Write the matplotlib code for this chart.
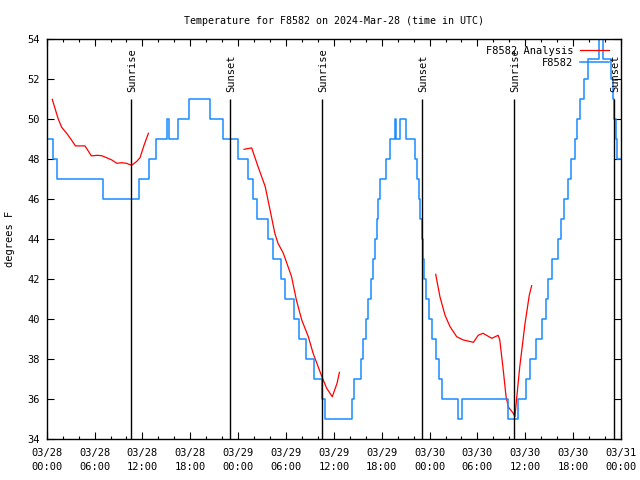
import matplotlib
matplotlib.use("Agg")
import matplotlib.pyplot as plt

plt.rcParams['font.family'] = ['DejaVu Sans Mono']

# ---- data (hours since 2024-03-28 00:00 UTC) ----
blue_hours = [0.0, 0.8, 1.3, 7.1, 11.6, 12.85, 13.65, 15.1, 15.35, 16.4, 17.9, 20.45, 22.15,
              24.0, 25.2, 25.9, 26.4, 27.7, 28.4, 29.4, 29.9, 30.95, 31.65, 32.45, 33.45, 34.5,
              34.85, 38.3, 38.5, 39.4, 39.6, 40.05, 40.3, 40.6, 40.85, 41.1, 41.35, 41.55, 41.8,
              42.5, 43.0, 43.7, 43.85, 44.3, 45.05, 46.2, 46.45, 46.65, 46.85, 47.0, 47.15,
              47.35, 47.6, 47.95, 48.3, 48.75, 49.2, 49.6, 51.6, 52.1, 57.85, 59.1, 60.1, 60.55,
              61.3, 62.1, 62.6, 62.9, 63.3, 64.05, 64.45, 64.9, 65.3, 65.7, 66.2, 66.45, 66.9,
              67.35, 67.85, 69.3, 69.7, 70.8, 71.0, 71.15, 71.35, 71.55, 72.0]
blue_vals = [49, 48, 47, 46, 47, 48, 49, 50, 49, 50, 51, 50, 49,
             48, 47, 46, 45, 44, 43, 42, 41, 40, 39, 38, 37, 36,
             35, 36, 37, 38, 39, 40, 41, 42, 43, 44, 45, 46, 47,
             48, 49, 50, 49, 50, 49, 48, 47, 46, 45, 44, 43,
             42, 41, 40, 39, 38, 37, 36, 35, 36, 35, 36, 37, 38,
             39, 40, 41, 42, 43, 44, 45, 46, 47, 48, 49, 50, 51,
             52, 53, 55, 53, 52, 51, 50, 49, 48, 48]

red1_hours = [0.7, 1.0, 1.46, 1.88, 2.5, 3.1, 3.6, 4.8, 5.6, 6.3, 6.9, 7.5, 8.15, 8.8, 9.4,
              10.0, 10.65, 11.3, 11.7, 12.2, 12.75]
red1_vals = [51.0, 50.6, 50.0, 49.6, 49.3, 48.97, 48.67, 48.67, 48.17, 48.2, 48.18, 48.08,
             47.97, 47.8, 47.83, 47.8, 47.7, 47.9, 48.08, 48.7, 49.3]

red2_hours = [24.74, 25.7, 26.5, 27.4, 28.0, 28.6, 29.0, 29.67, 30.7, 31.3, 31.97, 32.8,
              33.4, 34.5, 35.1, 35.8, 36.4, 36.7]
red2_vals = [48.5, 48.57, 47.63, 46.63, 45.47, 44.3, 43.8, 43.3, 42.13, 40.97, 39.97, 39.13,
             38.3, 37.13, 36.55, 36.13, 36.8, 37.35]

red3_hours = [48.77, 49.3, 49.94, 50.57, 51.4, 52.2, 53.5, 54.1, 54.7, 55.8, 56.6, 56.8,
              57.2, 57.6, 57.9, 58.5, 58.7, 58.9, 59.3, 59.97, 60.5, 60.8]
red3_vals = [42.25, 41.13, 40.2, 39.63, 39.13, 38.97, 38.85, 39.2, 39.3, 39.05, 39.2, 38.97,
             37.6, 36.1, 35.6, 35.3, 35.13, 35.97, 37.6, 39.8, 41.2, 41.68]

sun_hours = [10.6, 23.02, 34.56, 47.09, 58.63, 71.16]
sun_labels = ['Sunrise', 'Sunset', 'Sunrise', 'Sunset', 'Sunrise', 'Sunset']

xtick_hours = [0, 6, 12, 18, 24, 30, 36, 42, 48, 54, 60, 66, 72]
xtick_labels = ['03/28\n00:00', '03/28\n06:00', '03/28\n12:00', '03/28\n18:00',
                '03/29\n00:00', '03/29\n06:00', '03/29\n12:00', '03/29\n18:00',
                '03/30\n00:00', '03/30\n06:00', '03/30\n12:00', '03/30\n18:00',
                '03/31\n00:00']
ytick_vals = list(range(34, 55, 2))

# ---- figure ----
fig = plt.figure(figsize=(6.4, 4.8), dpi=100)
ax_w = (621 - 46.7)
ax_h = 400.0
ax = fig.add_axes([46.7/640, 1 - 439.3/480, ax_w/640, ax_h/480])

red = '#ff0000'
blue = '#1a8cff'
fs = 7.5

ax.plot(red1_hours, red1_vals, color=red, lw=0.9, label='F8582 Analysis')
ax.plot(red2_hours, red2_vals, color=red, lw=0.9)
ax.plot(red3_hours, red3_vals, color=red, lw=0.9)
ax.plot(blue_hours, blue_vals, color=blue, lw=1.1, drawstyle='steps-post', label='F8582')

for h, lab in zip(sun_hours, sun_labels):
    ax.vlines(h, 34, 51, color='black', lw=1.0)
    ax.text(h + 0.15, 51.35, lab, rotation=90, ha='center', va='bottom', fontsize=fs)

ax.set_xlim(0, 72)
ax.set_ylim(34, 54)
ax.set_xticks(xtick_hours)
ax.set_xticklabels(xtick_labels, fontsize=fs, linespacing=1.55)
ax.set_xticks(range(0, 73, 2), minor=True)
ax.set_yticks(ytick_vals)
ax.set_yticklabels([str(v) for v in ytick_vals], fontsize=fs)
ax.tick_params(axis='both', which='major', direction='in', length=5, width=0.8,
               top=True, right=True, pad=5)
ax.tick_params(axis='x', which='minor', direction='in', length=2.5, width=0.8, top=True)
ax.tick_params(axis='x', which='major', pad=6)
for s in ax.spines.values():
    s.set_linewidth(1.0)

ax.set_ylabel('degrees F', fontsize=fs)
ax.yaxis.set_label_coords(-0.056, 0.5)
ax.set_title('Temperature for F8582 on 2024-Mar-28 (time in UTC)', fontsize=7.2, pad=11)

leg = ax.legend(loc='upper right', frameon=False, markerfirst=False, fontsize=fs,
                handlelength=2.8, handletextpad=0.6, labelspacing=0.25,
                borderaxespad=0.2, borderpad=0.3,
                bbox_to_anchor=(1 - 7/ax_w, 1 - 1/ax_h))

fig.savefig('out.png', dpi=100)
